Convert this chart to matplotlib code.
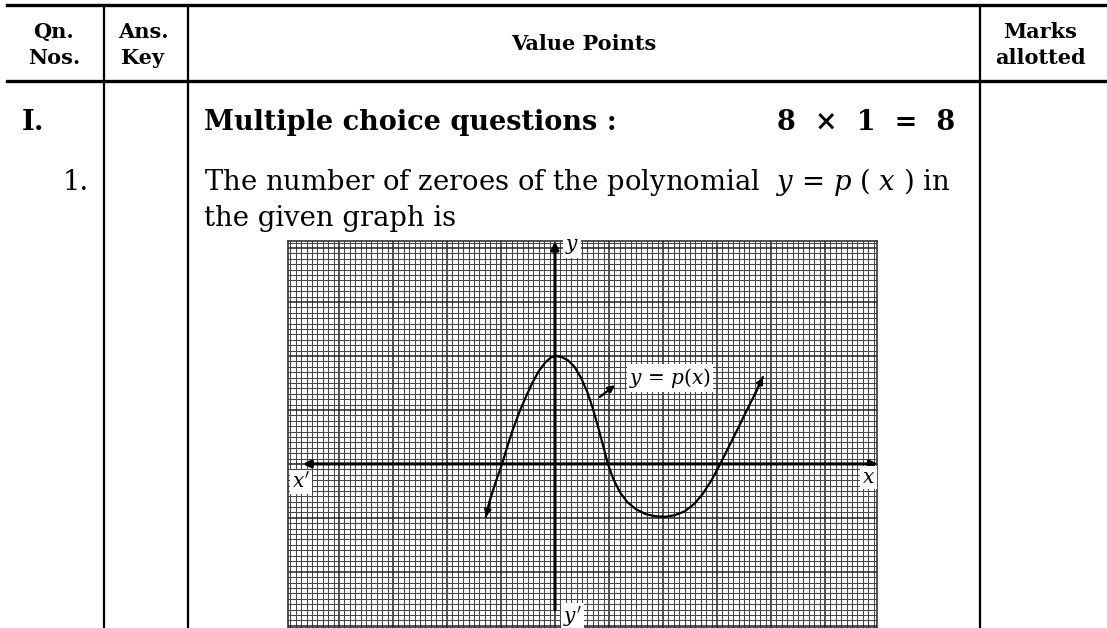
import matplotlib

matplotlib.use("Agg")

import numpy as np
import matplotlib.pyplot as plt
from matplotlib.lines import Line2D

plt.rcParams["font.family"] = ["DejaVu Serif"]
plt.rcParams["mathtext.fontset"] = "dejavuserif"

W, H = 1107, 628

# hand-drawn curve y = p(x), read in graph-paper units (1 unit = 10 small squares)
curve_x = [-1.28, -1.20, -1.10, -0.98, -0.88, -0.78, -0.66, -0.54, -0.42, -0.30,
           -0.18, -0.08, 0.02, 0.12, 0.24, 0.36, 0.48, 0.60, 0.70, 0.80, 0.89,
           0.98, 1.08, 1.20, 1.34, 1.50, 1.68, 1.86, 2.04, 2.22, 2.40, 2.58,
           2.74, 2.90, 3.06, 3.22, 3.38, 3.54, 3.70, 3.85]
curve_y = [-0.98, -0.66, -0.34, 0.00, 0.33, 0.64, 0.96, 1.24, 1.50, 1.72,
           1.88, 1.97, 2.00, 1.98, 1.92, 1.80, 1.60, 1.33, 1.03, 0.68, 0.34,
           0.00, -0.28, -0.52, -0.71, -0.84, -0.93, -0.97, -0.98, -0.95, -0.88,
           -0.74, -0.55, -0.30, 0.00, 0.32, 0.64, 0.97, 1.29, 1.61]

x_range = (-4.944, 5.963)
y_range = (-3.04, 4.13)

header_cols = [("Qn.", "Nos."), ("Ans.", "Key"), ("Value Points",), ("Marks", "allotted")]
section_title = "Multiple choice questions :"
section_marks = "8  ×  1  =  8"
question_line1 = "The number of zeroes of the polynomial  $y$ = $p$ ( $x$ ) in"
question_line2 = "the given graph is"


def fx(px):
    return px / W


def fy(py):
    return 1 - py / H


fig = plt.figure(figsize=(W / 100, H / 100), dpi=100)
fig.patch.set_facecolor("white")

# table rules
for y_px in [5, 81]:
    fig.add_artist(Line2D([fx(7), 1], [fy(y_px), fy(y_px)], color="black", lw=2.4))
for x_px in [104, 188, 980]:
    fig.add_artist(Line2D([fx(x_px), fx(x_px)], [fy(5), 0], color="black", lw=1.6))

# header
head = dict(fontsize=15, fontweight="bold", ha="center", va="center")
fig.text(fx(54), fy(32), header_cols[0][0], **head)
fig.text(fx(54), fy(58), header_cols[0][1], **head)
fig.text(fx(143), fy(32), header_cols[1][0], **head)
fig.text(fx(143), fy(58), header_cols[1][1], **head)
fig.text(fx(584), fy(44), header_cols[2][0], **head)
fig.text(fx(1040), fy(32), header_cols[3][0], **head)
fig.text(fx(1040), fy(58), header_cols[3][1], **head)

# first rows
body = dict(fontsize=19.8, va="baseline")
fig.text(fx(22), fy(130), "I.", fontweight="bold", **body)
fig.text(fx(204), fy(130), section_title, fontweight="bold", fontsize=19.5,
         va="baseline")
fig.text(fx(955), fy(130), section_marks, fontweight="bold", ha="right",
         fontsize=19.5, va="baseline")
fig.text(fx(89), fy(190), "1.", ha="right", **body)
fig.text(fx(204), fy(190), question_line1, **body)
fig.text(fx(204), fy(226), question_line2, **body)

# graph paper
ax = fig.add_axes([fx(288), 0, fx(877) - fx(288), 1 - (241 / H)])
ax.set_xlim(*x_range)
ax.set_ylim(*y_range)
ax.set_xticks(np.arange(-4, 6), minor=False)
ax.set_yticks(np.arange(-3, 5), minor=False)
ax.set_xticks(np.arange(-4.9, 6.0, 0.1), minor=True)
ax.set_yticks(np.arange(-3.0, 4.15, 0.1), minor=True)
ax.grid(which="minor", color="#454545", lw=0.75)
ax.grid(which="major", color="#222222", lw=1.1)
ax.tick_params(which="both", length=0, labelbottom=False, labelleft=False)
for side in ax.spines.values():
    side.set_color("#333333")
    side.set_linewidth(1.2)
ax.set_axisbelow(True)

arrow = dict(arrowstyle="-|>", color="black", lw=2.2, mutation_scale=11,
             shrinkA=0, shrinkB=0)
ax.annotate("", xy=(0, 4.12), xytext=(0, -2.70), arrowprops=arrow)
ax.annotate("", xy=(-4.67, 0), xytext=(0, 0), arrowprops=arrow)
ax.annotate("", xy=(5.98, 0), xytext=(0, 0), arrowprops=arrow,
            annotation_clip=False)

ax.plot(curve_x, curve_y, color="black", lw=1.6, solid_capstyle="round",
        solid_joinstyle="round")
end_arrow = dict(arrowstyle="-|>", color="black", lw=1.6, mutation_scale=10,
                 shrinkA=0, shrinkB=0)
ax.annotate("", xy=(curve_x[0], curve_y[0]), xytext=(curve_x[1], curve_y[1]),
            arrowprops=end_arrow)
ax.annotate("", xy=(curve_x[-1], curve_y[-1]), xytext=(curve_x[-2], curve_y[-2]),
            arrowprops=end_arrow)
ax.annotate("", xy=(1.11, 1.46), xytext=(0.83, 1.24), arrowprops=end_arrow)

box = dict(facecolor="white", edgecolor="none", pad=1.5)
ax.text(2.13, 1.59, "$y$ = $p(x)$", fontsize=14.5, ha="center", va="center", bbox=box)
ax.text(0.31, 4.02, "$y$", fontsize=14.5, ha="center", va="center", bbox=box)
ax.text(0.33, -2.83, "$y'$", fontsize=14.5, ha="center", va="center", bbox=box)
ax.text(-4.7, -0.33, "$x'$", fontsize=14.5, ha="center", va="center", bbox=box)
ax.text(5.8, -0.26, "$x$", fontsize=14.5, ha="center", va="center", bbox=box)

fig.savefig("out.png", dpi=100)
